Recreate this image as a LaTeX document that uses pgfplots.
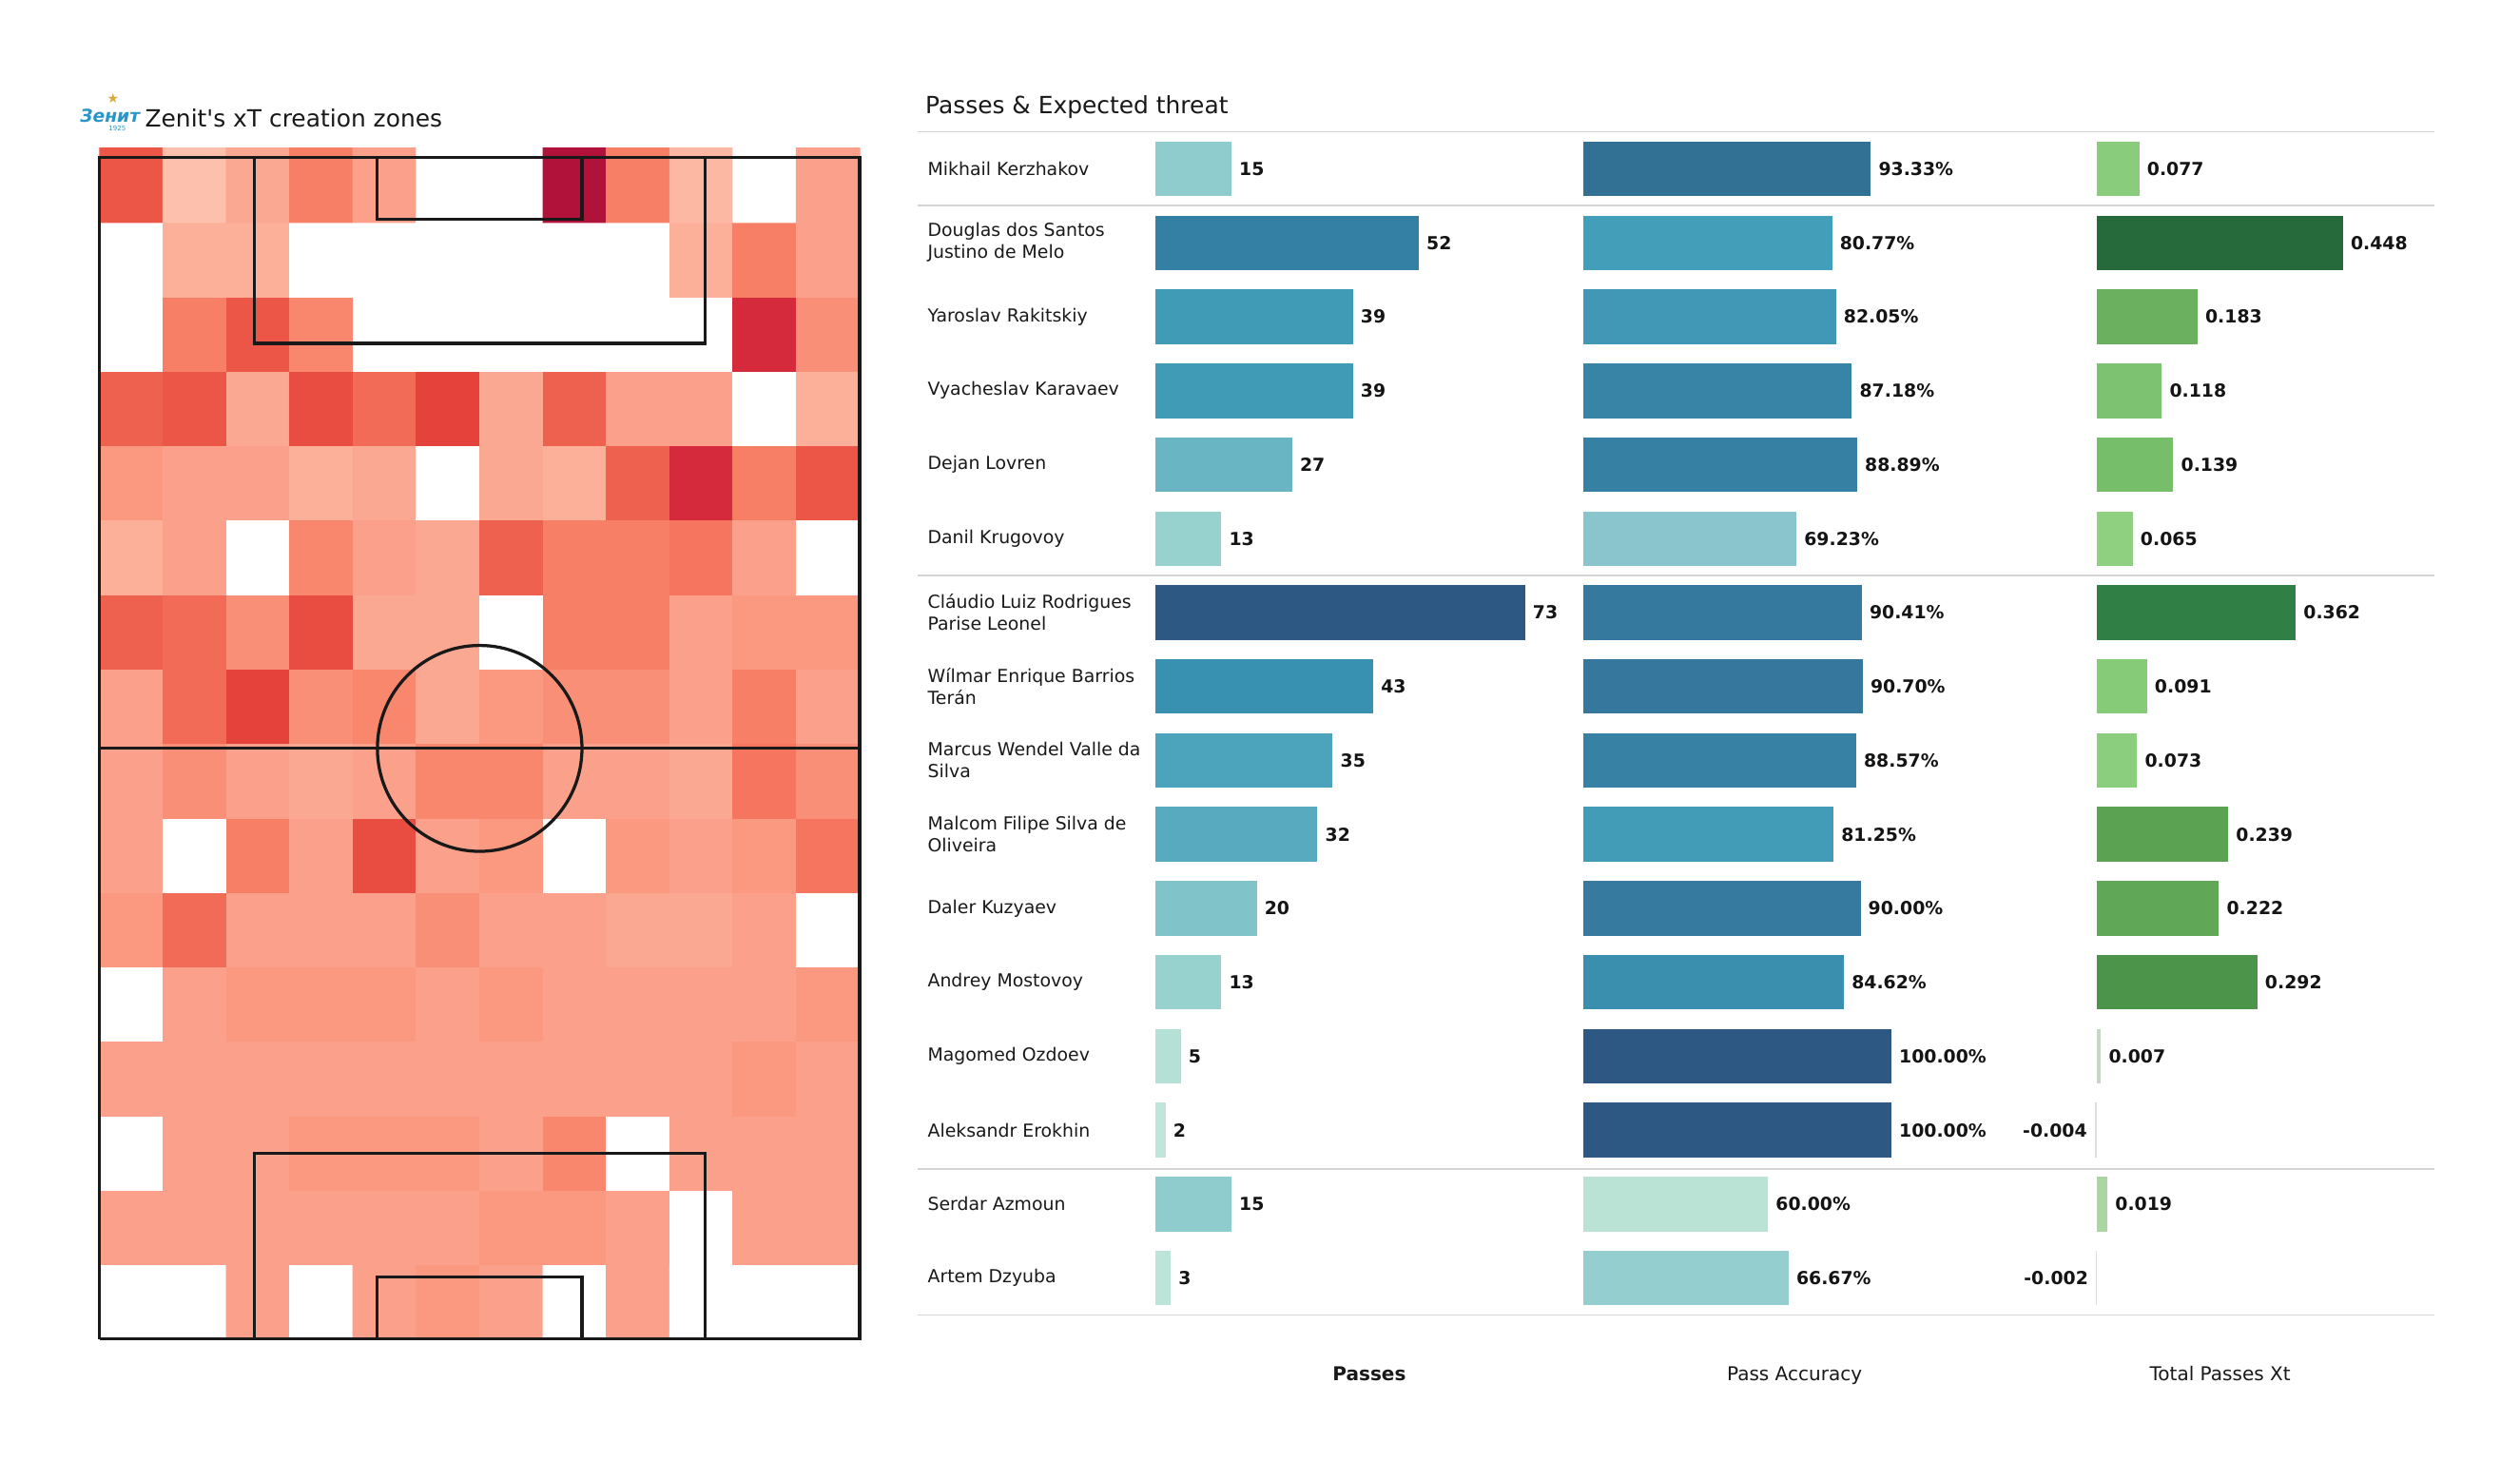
\documentclass[border=0pt]{standalone}
\usepackage{fontspec}
\setmainfont{DejaVu Sans}[Ligatures=TeXOff]
\usepackage{pgfplots}
\pgfplotsset{compat=1.18}
\definecolor{zblue}{RGB}{40,150,200}
\definecolor{zgold}{RGB}{215,170,60}
\definecolor{sep}{RGB}{212,212,212}
% passes colours
\definecolor{pA}{RGB}{143,204,205}
\definecolor{pB}{RGB}{52,128,165}
\definecolor{pC}{RGB}{64,155,183}
\definecolor{pD}{RGB}{106,181,196}
\definecolor{pE}{RGB}{152,210,207}
\definecolor{pF}{RGB}{46,88,132}
\definecolor{pG}{RGB}{57,145,178}
\definecolor{pH}{RGB}{75,163,188}
\definecolor{pI}{RGB}{88,170,190}
\definecolor{pJ}{RGB}{128,196,201}
\definecolor{pK}{RGB}{180,224,214}
\definecolor{pL}{RGB}{192,229,218}
\definecolor{pM}{RGB}{188,228,217}
% accuracy colours
\definecolor{aA}{RGB}{50,112,148}
\definecolor{aB}{RGB}{67,158,185}
\definecolor{aC}{RGB}{64,152,182}
\definecolor{aD}{RGB}{55,132,166}
\definecolor{aE}{RGB}{54,128,163}
\definecolor{aF}{RGB}{138,196,205}
\definecolor{aG}{RGB}{54,121,158}
\definecolor{aH}{RGB}{54,120,157}
\definecolor{aI}{RGB}{55,129,164}
\definecolor{aJ}{RGB}{66,156,184}
\definecolor{aK}{RGB}{54,122,159}
\definecolor{aL}{RGB}{58,143,175}
\definecolor{aM}{RGB}{45,88,132}
\definecolor{aN}{RGB}{186,227,214}
\definecolor{aO}{RGB}{148,206,206}
% xT colours
\definecolor{xA}{RGB}{137,205,124}
\definecolor{xB}{RGB}{38,106,60}
\definecolor{xC}{RGB}{106,176,94}
\definecolor{xD}{RGB}{124,194,112}
\definecolor{xE}{RGB}{118,190,106}
\definecolor{xF}{RGB}{142,208,128}
\definecolor{xG}{RGB}{48,128,70}
\definecolor{xH}{RGB}{133,203,120}
\definecolor{xI}{RGB}{138,206,126}
\definecolor{xJ}{RGB}{91,163,83}
\definecolor{xK}{RGB}{96,168,87}
\definecolor{xL}{RGB}{75,148,73}
\definecolor{xM}{RGB}{200,215,195}
\definecolor{xN}{RGB}{222,222,222}
\definecolor{xO}{RGB}{170,215,160}

\newcommand\hb[4]{\addplot[xbar, bar shift=0pt, bar width=0.74, fill=#3, draw=none,
  nodes near coords={#4}, every node near coord/.append style={anchor=west}] coordinates {(#1,#2)};}
\newcommand\hbn[4]{\addplot[xbar, bar shift=0pt, bar width=0.74, fill=#3, draw=none,
  nodes near coords={#4}, every node near coord/.append style={anchor=east}] coordinates {(#1,#2)};}

\pgfplotsset{panel/.style={scale only axis, hide axis, clip=false, anchor=south west,
  ymin=0.5, ymax=16.5, height=18.775cm,
  nodes near coords style={font=\fontsize{8.1}{9}\selectfont\bfseries, text=black!92}}}

\begin{document}
\begin{tikzpicture}[x=0.02551cm, y=0.02551cm]
\useasboundingbox (0,0) rectangle (1568,921);
\fill[white] (0,0) rectangle (1568,921);

% ---------------- heatmap ----------------
\begin{axis}[scale only axis, hide axis, clip=false,
  at={(1.5816cm,2.2449cm)}, anchor=south west,
  width=12.066cm, height=18.903cm,
  xmin=0.5, xmax=12.5, ymin=0.5, ymax=16.5,
  colormap={heat}{rgb255(0cm)=(255,255,255); rgb255(1cm)=(253,192,172); rgb255(2cm)=(252,175,153);
    rgb255(3cm)=(251,160,138); rgb255(4cm)=(249,143,118); rgb255(5cm)=(247,127,102);
    rgb255(6cm)=(242,107,87); rgb255(7cm)=(236,86,70); rgb255(8cm)=(229,66,60);
    rgb255(9cm)=(213,42,60); rgb255(10cm)=(176,18,58)},
  point meta min=0, point meta max=10]
\addplot[matrix plot*, mesh/cols=12, mesh/rows=16, point meta=explicit] coordinates {
(1,1)[0] (2,1)[0] (3,1)[3] (4,1)[0] (5,1)[3] (6,1)[3.5] (7,1)[3] (8,1)[0] (9,1)[3] (10,1)[0] (11,1)[0] (12,1)[0]
(1,2)[3] (2,2)[3] (3,2)[3] (4,2)[3] (5,2)[3] (6,2)[3] (7,2)[3.5] (8,2)[3.5] (9,2)[3] (10,2)[0] (11,2)[3] (12,2)[3]
(1,3)[0] (2,3)[3] (3,3)[3] (4,3)[3.5] (5,3)[3.5] (6,3)[3.5] (7,3)[3] (8,3)[4.5] (9,3)[0] (10,3)[3] (11,3)[3] (12,3)[3]
(1,4)[3] (2,4)[3] (3,4)[3] (4,4)[3] (5,4)[3] (6,4)[3] (7,4)[3] (8,4)[3] (9,4)[3] (10,4)[3] (11,4)[3.5] (12,4)[3]
(1,5)[0] (2,5)[3] (3,5)[3.5] (4,5)[3.5] (5,5)[3.5] (6,5)[3] (7,5)[3.5] (8,5)[3] (9,5)[3] (10,5)[3] (11,5)[3] (12,5)[3.5]
(1,6)[3.5] (2,6)[6] (3,6)[3] (4,6)[3] (5,6)[3] (6,6)[4] (7,6)[3] (8,6)[3] (9,6)[2.5] (10,6)[2.5] (11,6)[3] (12,6)[0]
(1,7)[3] (2,7)[0] (3,7)[5] (4,7)[3] (5,7)[7.5] (6,7)[3] (7,7)[3.5] (8,7)[0] (9,7)[3.5] (10,7)[3] (11,7)[3.5] (12,7)[5.5]
(1,8)[3] (2,8)[4] (3,8)[3] (4,8)[2.5] (5,8)[3] (6,8)[4.5] (7,8)[4.5] (8,8)[3] (9,8)[3] (10,8)[2.5] (11,8)[5.5] (12,8)[4]
(1,9)[3] (2,9)[6] (3,9)[8] (4,9)[4] (5,9)[4.5] (6,9)[2.5] (7,9)[3.5] (8,9)[4] (9,9)[4] (10,9)[3] (11,9)[5] (12,9)[3]
(1,10)[6.5] (2,10)[6] (3,10)[4] (4,10)[7.5] (5,10)[2.5] (6,10)[2.5] (7,10)[0] (8,10)[5] (9,10)[5] (10,10)[3] (11,10)[3.5] (12,10)[3.5]
(1,11)[2] (2,11)[3] (3,11)[0] (4,11)[4.5] (5,11)[3] (6,11)[2.5] (7,11)[6.5] (8,11)[5] (9,11)[5] (10,11)[5.5] (11,11)[3] (12,11)[0]
(1,12)[3.5] (2,12)[3] (3,12)[3] (4,12)[2] (5,12)[2.5] (6,12)[0] (7,12)[2.5] (8,12)[2] (9,12)[6.5] (10,12)[9] (11,12)[5] (12,12)[7]
(1,13)[6.5] (2,13)[7] (3,13)[2.5] (4,13)[7.5] (5,13)[6] (6,13)[8] (7,13)[2.5] (8,13)[6.5] (9,13)[3] (10,13)[3] (11,13)[0] (12,13)[2]
(1,14)[0] (2,14)[5] (3,14)[7] (4,14)[4.5] (5,14)[0] (6,14)[0] (7,14)[0] (8,14)[0] (9,14)[0] (10,14)[0] (11,14)[9] (12,14)[4]
(1,15)[0] (2,15)[2] (3,15)[2] (4,15)[0] (5,15)[0] (6,15)[0] (7,15)[0] (8,15)[0] (9,15)[0] (10,15)[2] (11,15)[5] (12,15)[3]
(1,16)[7] (2,16)[1] (3,16)[2.5] (4,16)[5] (5,16)[3] (6,16)[0] (7,16)[0] (8,16)[10] (9,16)[5] (10,16)[1.5] (11,16)[0] (12,16)[3]
};
% pitch markings
\addplot[black!90, line width=1.4pt, no markers] coordinates {(0.5,0.5) (12.5,0.5) (12.5,16.37) (0.5,16.37) (0.5,0.5)};
\addplot[black!90, line width=1.4pt, no markers] coordinates {(0.5,8.435) (12.5,8.435)};
\addplot[black!90, line width=1.4pt, no markers] coordinates {(2.94,16.37) (2.94,13.876) (10.06,13.876) (10.06,16.37)};
\addplot[black!90, line width=1.4pt, no markers] coordinates {(4.883,16.37) (4.883,15.539) (8.117,15.539) (8.117,16.37)};
\addplot[black!90, line width=1.4pt, no markers] coordinates {(2.94,0.5) (2.94,2.994) (10.06,2.994) (10.06,0.5)};
\addplot[black!90, line width=1.4pt, no markers] coordinates {(4.883,0.5) (4.883,1.331) (8.117,1.331) (8.117,0.5)};
\draw[black!90, line width=1.4pt] (axis cs:6.5,8.435) ellipse [x radius=1.615, y radius=1.383];
\end{axis}

% ---------------- panel 1: passes ----------------
\begin{axis}[panel, at={(18.342cm,2.6275cm)}, width=6.431cm, xmin=0, xmax=80]
\hb{15}{16}{pA}{15}
\hb{52}{15}{pB}{52}
\hb{39}{14}{pC}{39}
\hb{39}{13}{pC}{39}
\hb{27}{12}{pD}{27}
\hb{13}{11}{pE}{13}
\hb{73}{10}{pF}{73}
\hb{43}{9}{pG}{43}
\hb{35}{8}{pH}{35}
\hb{32}{7}{pI}{32}
\hb{20}{6}{pJ}{20}
\hb{13}{5}{pE}{13}
\hb{5}{4}{pK}{5}
\hb{2}{3}{pL}{2}
\hb{15}{2}{pA}{15}
\hb{3}{1}{pM}{3}
\end{axis}

% ---------------- panel 2: pass accuracy ----------------
\begin{axis}[panel, at={(25.127cm,2.6275cm)}, width=6.122cm, xmin=0, xmax=125]
\hb{93.33}{16}{aA}{93.33\%}
\hb{80.77}{15}{aB}{80.77\%}
\hb{82.05}{14}{aC}{82.05\%}
\hb{87.18}{13}{aD}{87.18\%}
\hb{88.89}{12}{aE}{88.89\%}
\hb{69.23}{11}{aF}{69.23\%}
\hb{90.41}{10}{aG}{90.41\%}
\hb{90.70}{9}{aH}{90.70\%}
\hb{88.57}{8}{aI}{88.57\%}
\hb{81.25}{7}{aJ}{81.25\%}
\hb{90.00}{6}{aK}{90.00\%}
\hb{84.62}{5}{aL}{84.62\%}
\hb{100}{4}{aM}{100.00\%}
\hb{100}{3}{aM}{100.00\%}
\hb{60.00}{2}{aN}{60.00\%}
\hb{66.67}{1}{aO}{66.67\%}
\end{axis}

% ---------------- panel 3: xT ----------------
\begin{axis}[panel, at={(32.854cm,2.6275cm)}, width=5.663cm, xmin=-0.05, xmax=0.6]
\hb{0.077}{16}{xA}{0.077}
\hb{0.448}{15}{xB}{0.448}
\hb{0.183}{14}{xC}{0.183}
\hb{0.118}{13}{xD}{0.118}
\hb{0.139}{12}{xE}{0.139}
\hb{0.065}{11}{xF}{0.065}
\hb{0.362}{10}{xG}{0.362}
\hb{0.091}{9}{xH}{0.091}
\hb{0.073}{8}{xI}{0.073}
\hb{0.239}{7}{xJ}{0.239}
\hb{0.222}{6}{xK}{0.222}
\hb{0.292}{5}{xL}{0.292}
\hb{0.007}{4}{xM}{0.007}
\hbn{-0.004}{3}{xN}{-0.004}
\hb{0.019}{2}{xO}{0.019}
\hbn{-0.002}{1}{xN}{-0.002}
\end{axis}

% separators
\foreach \yy in {839,793,563,194,103} \draw[sep, line width=0.8pt] (571,\yy) -- (1515,\yy);

% player names
\begin{scope}[every node/.style={anchor=west, align=left, inner sep=0pt, font=\fontsize{8.1}{9.9}\selectfont, text=black!90}]
\node at (577,816) {Mikhail Kerzhakov};
\node at (577,770) {Douglas dos Santos\\Justino de Melo};
\node at (577,724) {Yaroslav Rakitskiy};
\node at (577,678) {Vyacheslav Karavaev};
\node at (577,632) {Dejan Lovren};
\node at (577,586) {Danil Krugovoy};
\node at (577,540) {Cláudio Luiz Rodrigues\\Parise Leonel};
\node at (577,494) {Wílmar Enrique Barrios\\Terán};
\node at (577,448) {Marcus Wendel Valle da\\Silva};
\node at (577,402) {Malcom Filipe Silva de\\Oliveira};
\node at (577,356) {Daler Kuzyaev};
\node at (577,310) {Andrey Mostovoy};
\node at (577,264) {Magomed Ozdoev};
\node at (577,218) {Aleksandr Erokhin};
\node at (577,172) {Serdar Azmoun};
\node at (577,126) {Artem Dzyuba};
\end{scope}

% titles
\node[anchor=base west, inner sep=0pt, font=\fontsize{10.7}{12}\selectfont, text=black!90] at (90,842) {Zenit's xT creation zones};
\node[anchor=base west, inner sep=0pt, font=\fontsize{10.7}{12}\selectfont, text=black!90] at (575.5,850) {Passes \& Expected threat};
% logo
\node[inner sep=0pt, font=\fontsize{6}{6}\selectfont, text=zgold] at (70.4,860) {★};
\node[inner sep=0pt, font=\fontsize{8}{8}\selectfont\bfseries\itshape, text=zblue] at (68.5,849) {Зенит};
\node[inner sep=0pt, font=\fontsize{3}{3}\selectfont, text=zblue] at (73,841) {1925};

% bottom labels
\node[anchor=base, inner sep=0pt, font=\fontsize{8.6}{10}\selectfont\bfseries, text=black!90] at (852,62) {Passes};
\node[anchor=base, inner sep=0pt, font=\fontsize{8.6}{10}\selectfont, text=black!90] at (1116.6,62) {Pass Accuracy};
\node[anchor=base, inner sep=0pt, font=\fontsize{8.6}{10}\selectfont, text=black!90] at (1381.4,62) {Total Passes Xt};
\end{tikzpicture}
\end{document}
